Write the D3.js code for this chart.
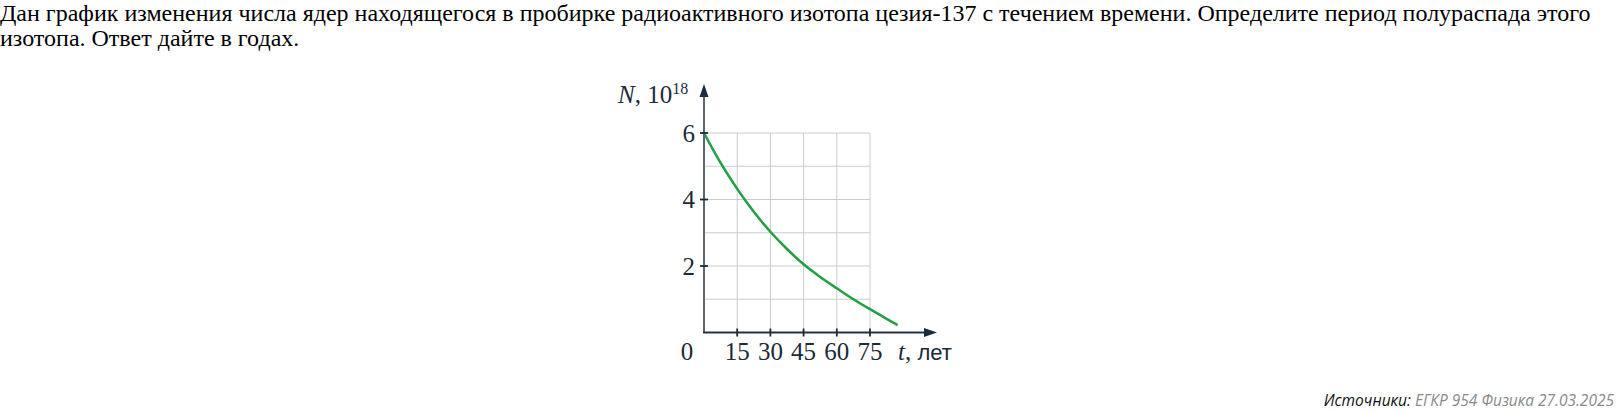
<!DOCTYPE html>
<html>
<head>
<meta charset="utf-8">
<script src="https://cdn.jsdelivr.net/npm/d3@7"></script>
<style>
  body { margin: 0; background: #fff; }
  svg { display: block; }
  .question { font-family: "Liberation Serif", "Times New Roman", serif; font-size: 24px; fill: #000; }
  .lbl { font-family: "Liberation Serif", "Times New Roman", serif; font-size: 25px; fill: #1c2a3a; }
  .grid line { stroke: #c8ccd1; stroke-width: 1; }
  .src { font-family: "Open Sans", sans-serif; font-style: italic; font-size: 15.5px; }
</style>
</head>
<body>
<svg width="1616" height="412"></svg>
<script>
// question text (two lines, as wrapped in the picture)
const questionLines = [
  'Дан график изменения числа ядер находящегося в пробирке радиоактивного изотопа цезия-137 с течением времени. Определите период полураспада этого',
  'изотопа. Ответ дайте в годах.'
];

// curve: t in years, N in 10^18
const years = [0, 7.5, 15, 22.5, 30, 37.5, 45, 52.5, 60, 67.5, 75, 81, 87.5];
const nuclei = [6, 5.1, 4.32, 3.63, 3.03, 2.51, 2.05, 1.67, 1.33, 1.0, 0.70, 0.47, 0.22];

const xTicks = [15, 30, 45, 60, 75];
const yTicks = [2, 4, 6];
const yGrid = [1, 2, 3, 4, 5, 6];

const svg = d3.select('svg');

svg.selectAll('text.question')
  .data(questionLines)
  .enter().append('text')
    .attr('class', 'question')
    .attr('x', 0)
    .attr('y', (d, i) => 21 + i * 25)
    .text(d => d);

const x = d3.scaleLinear().domain([0, 75]).range([704, 870]);
const y = d3.scaleLinear().domain([0, 6]).range([332.5, 133]);

const g = svg.append('g');

// grid
const grid = g.append('g').attr('class', 'grid');
grid.selectAll('line.h')
  .data(yGrid)
  .enter().append('line')
    .attr('x1', x(0)).attr('x2', x(75))
    .attr('y1', d => y(d)).attr('y2', d => y(d));
grid.selectAll('line.v')
  .data(xTicks)
  .enter().append('line')
    .attr('x1', d => x(d)).attr('x2', d => x(d))
    .attr('y1', y(0)).attr('y2', y(6));

// curve
const line = d3.line()
  .x((d, i) => x(years[i]))
  .y(d => y(d))
  .curve(d3.curveCatmullRom);

g.append('path')
  .attr('d', line(nuclei))
  .attr('fill', 'none')
  .attr('stroke', '#23a046')
  .attr('stroke-width', 2.6);

// axes with arrows
g.append('line')
  .attr('x1', x(0)).attr('x2', x(0))
  .attr('y1', y(0) + 0.5).attr('y2', 94)
  .attr('stroke', '#5c6773').attr('stroke-width', 2);
g.append('line')
  .attr('x1', x(0) - 1).attr('x2', 928)
  .attr('y1', y(0)).attr('y2', y(0))
  .attr('stroke', '#223244').attr('stroke-width', 2);

g.append('path')
  .attr('d', `M${x(0)},84 L${x(0) + 4.5},97 L${x(0) - 4.5},97 Z`)
  .attr('fill', '#1c2a3a');
g.append('path')
  .attr('d', `M937,${y(0)} L924,${y(0) - 4.5} L924,${y(0) + 4.5} Z`)
  .attr('fill', '#1c2a3a');

// ticks
g.selectAll('line.yt')
  .data(yTicks)
  .enter().append('line')
    .attr('x1', x(0) - 4).attr('x2', x(0) + 4)
    .attr('y1', d => y(d)).attr('y2', d => y(d))
    .attr('stroke', '#1c2a3a').attr('stroke-width', 1.8);
g.selectAll('line.xt')
  .data(xTicks)
  .enter().append('line')
    .attr('x1', d => x(d)).attr('x2', d => x(d))
    .attr('y1', y(0) - 4).attr('y2', y(0) + 4)
    .attr('stroke', '#1c2a3a').attr('stroke-width', 1.8);

// tick labels
g.selectAll('text.yl')
  .data(yTicks)
  .enter().append('text')
    .attr('class', 'lbl')
    .attr('x', x(0) - 9)
    .attr('y', d => y(d) + 8.5)
    .attr('text-anchor', 'end')
    .text(d => d);
g.selectAll('text.xl')
  .data(xTicks)
  .enter().append('text')
    .attr('class', 'lbl')
    .attr('x', d => x(d))
    .attr('y', 360)
    .attr('text-anchor', 'middle')
    .text(d => d);
g.append('text')
  .attr('class', 'lbl')
  .attr('x', 687).attr('y', 360)
  .attr('text-anchor', 'middle')
  .text('0');

// axis titles
const yTitle = g.append('text').attr('class', 'lbl').attr('x', 618).attr('y', 103);
yTitle.append('tspan').attr('font-style', 'italic').text('N');
yTitle.append('tspan').text(', 10');
yTitle.append('tspan').attr('font-size', 16).attr('dy', -9).text('18');

const xTitle = g.append('text').attr('class', 'lbl').attr('x', 898).attr('y', 360);
xTitle.append('tspan').attr('font-style', 'italic').text('t');
xTitle.append('tspan').text(', ');
xTitle.append('tspan').attr('font-family', '"Liberation Sans", Arial, sans-serif').attr('font-size', 22).text('лет');

// source line
const src = svg.append('text').attr('class', 'src')
  .attr('x', 1614).attr('y', 406).attr('text-anchor', 'end');
src.append('tspan').attr('fill', '#111').text('Источники: ');
src.append('tspan').attr('fill', '#8a8a8a').text('ЕГКР 954 Физика 27.03.2025');
</script>
</body>
</html>
